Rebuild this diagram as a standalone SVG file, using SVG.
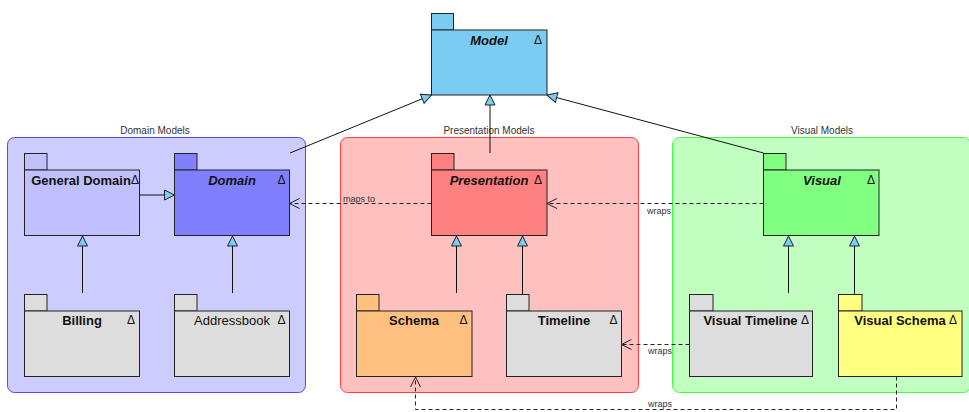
<svg xmlns="http://www.w3.org/2000/svg" width="969" height="412" viewBox="0 0 969 412">
<style>
.pk{stroke:#222;stroke-width:1}
.nm{font-family:"Liberation Sans",Arial,sans-serif;font-size:13px;font-weight:bold;text-anchor:middle;fill:#111}
.it{font-style:italic}
.nr{font-weight:normal}
.tri{font-family:"Liberation Sans",Arial,sans-serif;font-size:12px;text-anchor:middle;fill:#111}
.ct{font-family:"Liberation Sans",Arial,sans-serif;font-size:10px;text-anchor:middle;fill:#333}
.lb{font-family:"Liberation Sans",Arial,sans-serif;font-size:9px;fill:#333}
.gen{stroke:#111;stroke-width:1;fill:none;marker-end:url(#gen)}
.dep{stroke:#222;stroke-width:1;fill:none;stroke-dasharray:4,3;marker-end:url(#dep)}
</style>
<defs>
<marker id="gen" viewBox="-1 -1 12 12" refX="10" refY="5" markerWidth="12" markerHeight="12" markerUnits="userSpaceOnUse" orient="auto">
<path d="M0,0 L10,5 L0,10 Z" fill="#7accf2" stroke="#222" stroke-width="1"/>
</marker>
<marker id="dep" viewBox="-1 -1 12 12" refX="10" refY="5" markerWidth="12" markerHeight="12" markerUnits="userSpaceOnUse" orient="auto">
<path d="M0,0 L10,5 L0,10" fill="none" stroke="#222" stroke-width="1"/>
</marker>
</defs>
<rect width="969" height="412" fill="#fff"/>

<g id="domain-models">
<rect x="7.5" y="137.5" width="298" height="255" rx="7" fill="#ccccff" stroke="#4a4af0"/>
<text class="ct" x="155" y="134">Domain Models</text>
</g>
<g id="presentation-models">
<rect x="340.5" y="137.5" width="298" height="255" rx="7" fill="#ffc0c0" stroke="#ff4040"/>
<text class="ct" x="489" y="134">Presentation Models</text>
</g>
<g id="visual-models">
<rect x="672.5" y="137.5" width="298" height="255" rx="7" fill="#c0ffc0" stroke="#40ff40"/>
<text class="ct" x="822" y="134">Visual Models</text>
</g>

<g id="model">
<rect class="pk" x="431.5" y="13.5" width="22" height="16.5" fill="#7accf2"/>
<rect class="pk" x="431.5" y="30" width="115.5" height="65" fill="#7accf2"/>
<text class="nm it" x="489" y="45">Model</text>
<text class="tri" x="538" y="44">Δ</text>
</g>

<g id="general-domain">
<rect class="pk" x="24.5" y="153.5" width="22.5" height="16.5" fill="#c0c0ff"/>
<rect class="pk" x="24.5" y="170" width="115" height="65.5" fill="#c0c0ff"/>
<text class="nm" x="81" y="185">General Domain</text>
<text class="tri" x="135" y="184">Δ</text>
</g>
<g id="domain">
<rect class="pk" x="174.5" y="153.5" width="22.5" height="16.5" fill="#8080ff"/>
<rect class="pk" x="174.5" y="170" width="115" height="65.5" fill="#8080ff"/>
<text class="nm it" x="232" y="185">Domain</text>
<text class="tri" x="281.5" y="184">Δ</text>
</g>
<g id="billing">
<rect class="pk" x="24.5" y="294.5" width="22.5" height="16.5" fill="#dddddd"/>
<rect class="pk" x="24.5" y="311" width="115" height="65.5" fill="#dddddd"/>
<text class="nm" x="82" y="325">Billing</text>
<text class="tri" x="131" y="324">Δ</text>
</g>
<g id="addressbook">
<rect class="pk" x="174.5" y="294.5" width="22.5" height="16.5" fill="#dddddd"/>
<rect class="pk" x="174.5" y="311" width="115" height="65.5" fill="#dddddd"/>
<text class="nm nr" x="232" y="325">Addressbook</text>
<text class="tri" x="281.5" y="324">Δ</text>
</g>

<g id="presentation">
<rect class="pk" x="431.5" y="153.5" width="22.5" height="16.5" fill="#ff8080"/>
<rect class="pk" x="431.5" y="170" width="115.5" height="65.5" fill="#ff8080"/>
<text class="nm it" x="489" y="185">Presentation</text>
<text class="tri" x="538" y="184">Δ</text>
</g>
<g id="schema">
<rect class="pk" x="356.5" y="294.5" width="22.5" height="16.5" fill="#ffc080"/>
<rect class="pk" x="356.5" y="311" width="115.5" height="65.5" fill="#ffc080"/>
<text class="nm" x="414" y="325">Schema</text>
<text class="tri" x="463.5" y="324">Δ</text>
</g>
<g id="timeline">
<rect class="pk" x="506.5" y="294.5" width="22.5" height="16.5" fill="#dddddd"/>
<rect class="pk" x="506.5" y="311" width="115" height="65.5" fill="#dddddd"/>
<text class="nm" x="564" y="325">Timeline</text>
<text class="tri" x="613.5" y="324">Δ</text>
</g>

<g id="visual">
<rect class="pk" x="763.5" y="153.5" width="22.5" height="16.5" fill="#80ff80"/>
<rect class="pk" x="763.5" y="170" width="115.5" height="65.5" fill="#80ff80"/>
<text class="nm it" x="822" y="185">Visual</text>
<text class="tri" x="871" y="184">Δ</text>
</g>
<g id="visual-timeline">
<rect class="pk" x="689.5" y="294.5" width="23.5" height="16.5" fill="#dddddd"/>
<rect class="pk" x="689.5" y="311" width="123" height="65.5" fill="#dddddd"/>
<text class="nm" x="750.5" y="325">Visual Timeline</text>
<text class="tri" x="805" y="324">Δ</text>
</g>
<g id="visual-schema">
<rect class="pk" x="838.5" y="294.5" width="23.5" height="16.5" fill="#ffff80"/>
<rect class="pk" x="838.5" y="311" width="123.5" height="65.5" fill="#ffff80"/>
<text class="nm" x="900" y="325">Visual Schema</text>
<text class="tri" x="953" y="324">Δ</text>
</g>

<g id="connectors">
<line class="gen" x1="290" y1="153" x2="431.5" y2="95"/>
<line class="gen" x1="490" y1="153" x2="490" y2="95"/>
<line class="gen" x1="763.5" y1="153" x2="547" y2="95"/>
<line class="gen" x1="139.5" y1="195" x2="174.5" y2="195"/>
<line class="gen" x1="82.5" y1="293" x2="82.5" y2="236"/>
<line class="gen" x1="232.5" y1="293" x2="232.5" y2="236"/>
<line class="gen" x1="456.5" y1="293" x2="456.5" y2="236"/>
<line class="gen" x1="522.5" y1="294.5" x2="522.5" y2="236"/>
<line class="gen" x1="788.5" y1="293" x2="788.5" y2="236"/>
<line class="gen" x1="854.5" y1="294.5" x2="854.5" y2="236"/>
<line class="dep" x1="431.5" y1="203.5" x2="289.5" y2="203.5"/>
<text class="lb" x="343" y="202">maps to</text>
<line class="dep" x1="763.5" y1="203.5" x2="547" y2="203.5"/>
<text class="lb" x="647" y="214">wraps</text>
<line class="dep" x1="689.5" y1="344.5" x2="621.5" y2="344.5"/>
<text class="lb" x="648" y="354">wraps</text>
<path class="dep" d="M896.5,376.5 V409.5 H415.5 V377"/>
<text class="lb" x="648" y="407">wraps</text>
</g>
</svg>
